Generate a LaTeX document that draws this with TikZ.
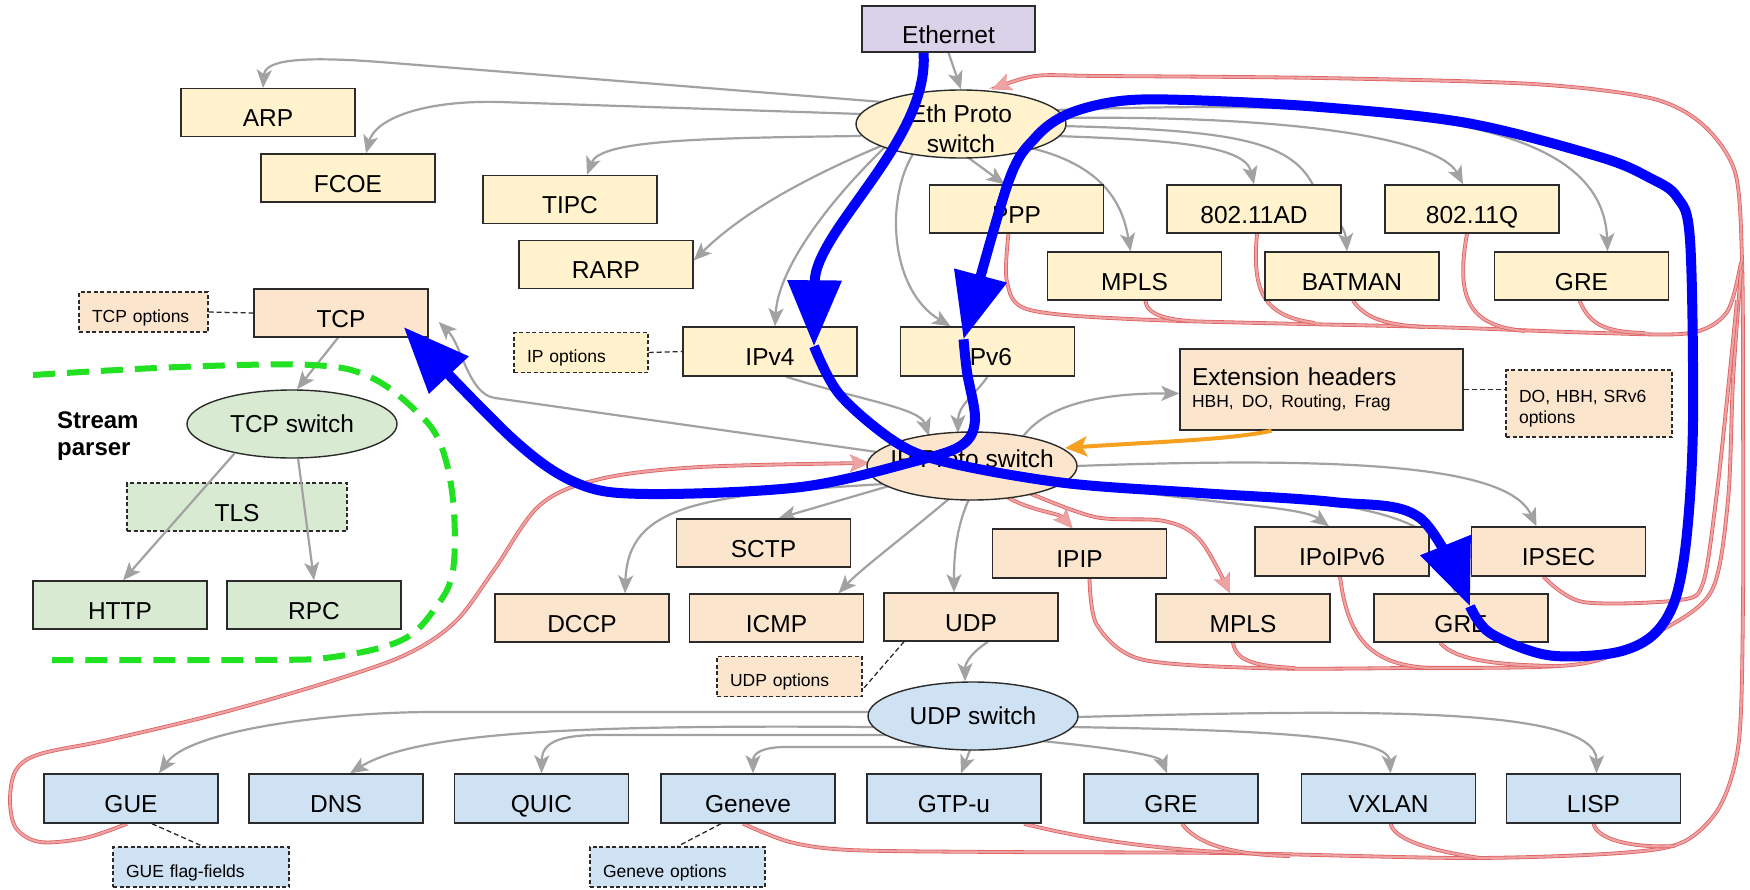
\documentclass[tikz,border=0pt]{standalone}
\usepackage{fontspec}
\setmainfont{Liberation Sans}
\usetikzlibrary{arrows.meta,calc,shapes.geometric}
\pgfdeclarelayer{paper}
\pgfdeclarelayer{back}
\pgfsetlayers{paper,back,main}

\definecolor{l2fill}{HTML}{FFF2CC}
\definecolor{l3fill}{HTML}{FCE5CD}
\definecolor{grfill}{HTML}{D9EAD3}
\definecolor{blfill}{HTML}{CFE2F3}
\definecolor{ethfill}{HTML}{D9D2E9}
\definecolor{edge}{HTML}{2B2B2B}
\definecolor{arrowgray}{HTML}{A2A2A2}
\definecolor{pinkcore}{HTML}{EDA3A3}
\definecolor{pinkedge}{HTML}{E06060}
\definecolor{pathblue}{HTML}{0000FF}
\definecolor{extorange}{HTML}{F5A01E}
\definecolor{streamgreen}{HTML}{22E022}

\begin{document}
\begin{tikzpicture}[x=1pt,y=-1pt,
  box/.style={draw=edge, line width=1.4pt, minimum width=174pt, minimum height=48pt,
    inner sep=0pt, text height=28pt, text depth=0pt, font=\fontsize{24.5}{28}\selectfont},
  l2box/.style={box, fill=l2fill},
  l3box/.style={box, fill=l3fill},
  udpbox/.style={box, fill=blfill, minimum height=49pt},
  strbox/.style={box, fill=grfill},
  ethbox/.style={box, fill=ethfill, minimum width=173pt, minimum height=46pt},
  optbox/.style={draw=edge, line width=1.2pt, dash pattern=on 4pt off 2.5pt,
    inner xsep=13pt, inner ysep=0pt, minimum height=40pt, align=left,
    text height=20pt, text depth=0pt,
    font=\fontsize{17.5}{21}\selectfont\frenchspacing},
  switchnode/.style={ellipse, draw=edge, line width=1.4pt, minimum width=210pt,
    minimum height=68pt, inner xsep=-12pt, inner ysep=-8pt, align=center,
    font=\fontsize{24.5}{30}\selectfont},
  garrow/.style={draw=arrowgray, line width=2.2pt, -{Stealth[length=18pt,width=15pt,inset=4.5pt]}},
  pinkline/.style={draw=pinkcore, line width=2.2pt, preaction={draw=pinkedge, line width=3.8pt}},
  pinkarrow/.style={pinkline, -{Stealth[length=19pt,width=17pt,inset=4pt]}},
  optlink/.style={draw=edge, line width=1.3pt, dash pattern=on 5pt off 3pt},
  bluepath/.style={draw=pathblue, line width=10pt, -{Triangle[length=66pt,width=52pt]}},
  bus/.style={smooth, tension=0.5}
]
\useasboundingbox (0,0) rectangle (1750,889);
\begin{pgfonlayer}{paper}
  \fill[white] (0,0) rectangle (1750,889);
\end{pgfonlayer}

% ---------- link layer ----------
\node[ethbox] (eth) at (948.5,29) {Ethernet};
\node[switchnode, fill=l2fill] (E) at (961,124) {\rule{0pt}{28pt}Eth Proto\\switch};
\node[l2box] (arp) at (268,112.5) {ARP};
\node[l2box] (fcoe) at (348,178) {FCOE};
\node[l2box] (tipc) at (570,199.5) {TIPC};
\node[l2box] (rarp) at (606,264.5) {RARP};
\node[l2box] (ppp) at (1016.5,209) {PPP};
\node[l2box] (ad) at (1254,209) {802.11AD};
\node[l2box] (q) at (1472,209) {802.11Q};
\node[l2box] (mplsA) at (1134.5,276) {MPLS};
\node[l2box] (batman) at (1352,276) {BATMAN};
\node[l2box] (greA) at (1581.5,276) {GRE};
\node[l2box, minimum height=49pt] (ipv4) at (770,351.5) {IPv4};
\node[l2box, minimum height=49pt] (ipv6) at (987.5,351.5) {IPv6};
\node[optbox, fill=l2fill, text width=108pt] (ipopt) at (581,352.5) {IP options};

% ---------- network layer ----------
\node[switchnode, fill=l3fill, text depth=14pt] (P) at (972,466) {IP Proto switch};
\node[l3box] (tcp) at (341,313) {TCP};
\node[optbox, fill=l3fill, text width=103pt] (tcpopt) at (143.5,312) {TCP options};
\node[l3box, minimum width=283pt, minimum height=81pt, text width=259pt, inner xsep=12pt,
  text height=, text depth=, align=left, font=\fontsize{24.5}{28}\selectfont\frenchspacing]
  (ext) at (1321.5,389.5)
  {Extension headers\\[-6pt]{\fontsize{17.5}{21}\selectfont HBH, DO, Routing, Frag}};
\node[optbox, fill=l3fill, text width=140pt, minimum height=67pt, text height=, text depth=]
  (extopt) at (1589,403.5) {\rule{0pt}{21.7pt}DO, HBH, SRv6\\options};
\node[l3box] (sctp) at (763.5,543) {SCTP};
\node[l3box] (dccp) at (582,618) {DCCP};
\node[l3box] (icmp) at (776.5,618) {ICMP};
\node[l3box] (udp) at (971,617) {UDP};
\node[optbox, fill=l3fill, text width=119pt] (udpopt) at (789.5,676.5) {UDP options};
\node[l3box, minimum height=49pt] (ipip) at (1079.5,553.5) {IPIP};
\node[l3box, minimum height=49pt] (ipoipv6) at (1342,551.5) {IPoIPv6};
\node[l3box, minimum height=49pt] (ipsec) at (1558.5,551.5) {IPSEC};
\node[l3box] (mplsB) at (1243,618) {MPLS};
\node[l3box] (greB) at (1461,618) {GRE};

% ---------- stream parser ----------
\node[switchnode, fill=grfill] (tcpsw) at (292,424) {TCP switch};
\node[strbox, line width=1.2pt, dash pattern=on 4pt off 2.5pt, minimum width=220pt] (tls) at (237,507) {TLS};
\node[strbox] (http) at (120,605) {HTTP};
\node[strbox] (rpc) at (314,605) {RPC};
\node[anchor=north west, inner sep=0pt, align=left, font=\fontsize{24}{27}\selectfont\bfseries]
  (streamlbl) at (57,412) {Stream\\parser};

% ---------- UDP encapsulations ----------
\node[switchnode, fill=blfill] (U) at (973,716) {UDP switch};
\node[udpbox] (gue) at (131,798.5) {GUE};
\node[udpbox] (dns) at (336,798.5) {DNS};
\node[udpbox] (quic) at (541.5,798.5) {QUIC};
\node[udpbox] (geneve) at (748,798.5) {Geneve};
\node[udpbox] (gtpu) at (954,798.5) {GTP-u};
\node[udpbox] (greC) at (1171,798.5) {GRE};
\node[udpbox] (vxlan) at (1388.5,798.5) {VXLAN};
\node[udpbox] (lisp) at (1593.5,798.5) {LISP};
\node[optbox, fill=blfill, text width=150pt] (gueopt) at (201,867) {GUE flag-fields};
\node[optbox, fill=blfill, text width=149pt] (genopt) at (677.5,867) {Geneve options};

% ---------- helper points for the bundled return lines ----------
\coordinate (g0) at ($(geneve.south)+(-5,0)$);
\coordinate (eTop) at ($(E.north)+(31,0)$);
\coordinate (p0) at ($(ppp.south)+(-8,0)$);
\coordinate (i0) at ($(ipip.south)+(10,0)$);
\coordinate (s0) at ($(ipsec.south)+(-15,0)$);
\coordinate (u0) at ($(gue.south)+(-4,0)$);
\coordinate (pW) at ($(P.west)+(3,-3)$);
\coordinate (m0) at ($(P)+(55,26)$);
\coordinate (m1) at ($(mplsB.north)+(-13,0)$);

\begin{pgfonlayer}{back}
  % return lines back to the Ethernet protocol switch
  \draw[pinkarrow] plot[bus] coordinates {(g0) (790,842) (850,850) (1000,852) (1224,853)
    (1467,858) (1620,853) (1683,842) (1720,806) (1739,740) (1743,600) (1743,400) (1742,260)
    (1735,172) (1702,124) (1650,98) (1533,84) (1320,78) (1100,76) (1035,76) (eTop)};
  \draw[pinkline] plot[bus] coordinates {(p0) (1007,282) (1030,310) (1153,320) (1433,327)
    (1600,333) (1690,333) (1727,312) (1741,262)};
  \draw[pinkline] ($(mplsA.south)+(11,0)$) .. controls (1146,312) and (1160,319) .. (1190,321);
  \draw[pinkline] ($(ad.south)+(3,0)$) .. controls (1252,290) and (1262,316) .. (1315,323);
  \draw[pinkline] ($(batman.south)+(1,0)$) .. controls (1365,318) and (1385,325) .. (1425,327);
  \draw[pinkline] ($(q.south)+(-5,0)$) .. controls (1455,300) and (1470,326) .. (1525,331);
  \draw[pinkline] ($(greA.south)+(-2,0)$) .. controls (1590,325) and (1605,332) .. (1645,333);
  \draw[pinkline] plot[bus] coordinates {(i0) (1097,625) (1140,659) (1256,668) (1402,668)
    (1580,664) (1662,630) (1712,590) (1728,500) (1733,380) (1741,270)};
  \draw[pinkline] ($(mplsB.south)+(-10,0)$) .. controls (1236,660) and (1252,666) .. (1295,668);
  \draw[pinkline] ($(ipoipv6.south)+(-2,0)$) .. controls (1348,640) and (1372,665) .. (1430,668);
  \draw[pinkline] ($(greB.south)+(-21,0)$) .. controls (1455,660) and (1495,665) .. (1555,666);
  \draw[pinkline] plot[bus] coordinates {(s0) (1583,602) (1680,600) (1703,583) (1716,500)
    (1727,400) (1737,300)};
  \draw[pinkline] ($(gtpu.south)+(70,0)$) .. controls (1100,843) and (1180,851) .. (1245,853);
  \draw[pinkline] ($(greC.south)+(11,0)$) .. controls (1196,843) and (1230,855) .. (1290,856);
  \draw[pinkline] ($(vxlan.south)+(2,0)$) .. controls (1395,842) and (1440,852) .. (1480,858);
  \draw[pinkline] (lisp.south) .. controls (1598,842) and (1640,848) .. (1675,846);
  % GUE back into the IP protocol switch
  \draw[pinkarrow] plot[smooth, tension=0.55] coordinates {(u0) (85,838) (40,842) (16,828)
    (10,800) (16,770) (40,754) (108,740) (217,714) (325,683) (405,655) (455,622) (494,570)
    (540,505) (600,479) (700,467) (pW)};
  \draw[pinkarrow] ($(P)+(30,28)$) .. controls (1030,512) and (1058,512) .. ($(ipip.north)+(-7,0)$);
  \draw[pinkarrow] plot[smooth, tension=0.55] coordinates {(m0) (1095,517) (1164,521) (1200,540) (m1)};

  % Ethernet protocol switch
  \draw[garrow] (eth.south) -- (E.north);
  \draw[garrow] ($(E)+(-78,-22)$) -- (380,62) .. controls (300,56) and (265,60) .. ($(arp.north)+(-5,0)$);
  \draw[garrow] ($(E)+(-100,-10)$) -- (500,102) .. controls (420,100) and (375,120) .. ($(fcoe.north)+(18,0)$);
  \draw[garrow] ($(E)+(-100,12)$) .. controls (700,138) and (600,140) .. ($(tipc.north)+(17,0)$);
  \draw[garrow] ($(E)+(-80,22)$) .. controls (800,180) and (740,215) .. ($(rarp.east)+(0,-4)$);
  \draw[garrow] ($(E)+(-75,22)$) .. controls (825,205) and (778,270) .. ($(ipv4.north)+(5,0)$);
  \draw[garrow] ($(E)+(-48,30)$) .. controls (885,200) and (890,290) .. ($(ipv6.north)+(-37,0)$);
  \draw[garrow] ($(E)+(5,32)$) -- ($(ppp.north)+(-12,0)$);
  \draw[garrow] ($(E)+(70,24)$) .. controls (1100,165) and (1122,200) .. ($(mplsA.north)+(-4,0)$);
  \draw[garrow] ($(E)+(95,12)$) .. controls (1170,140) and (1245,145) .. (ad.north);
  \draw[garrow] ($(E)+(100,2)$) .. controls (1230,130) and (1290,140) .. (1313,185)
    .. controls (1330,215) and (1345,225) .. ($(batman.north)+(-5,0)$);
  \draw[garrow] ($(E)+(100,-6)$) .. controls (1300,115) and (1440,140) .. ($(q.north)+(-9,0)$);
  \draw[garrow] ($(E)+(95,-14)$) .. controls (1400,98) and (1603,120) .. ($(greA.north)+(26,0)$);

  % IP protocol switch
  \draw[garrow] ($(ipv4.south)+(16,0)$) .. controls (860,400) and (920,408) .. ($(P)+(-43,-30)$);
  \draw[garrow] (ipv6.south) .. controls (975,395) and (958,405) .. ($(P)+(-14,-33)$);
  \draw[garrow] ($(P)+(50,-28)$) .. controls (1045,405) and (1100,393) .. ($(ext.west)+(0,4)$);
  \draw[garrow] ($(P)+(-95,-14)$) -- (495,398) .. controls (468,394) and (462,345) .. ($(tcp.east)+(10,9)$);
  \draw[garrow] ($(P)+(-83,20)$) -- ($(sctp.north)+(15,0)$);
  \draw[garrow] ($(P)+(-88,18)$) .. controls (700,495) and (628,505) .. ($(dccp.north)+(43,0)$);
  \draw[garrow] ($(P)+(-22,32)$) .. controls (900,540) and (860,570) .. ($(icmp.north)+(62,0)$);
  \draw[garrow] ($(P)+(-3,33)$) .. controls (955,530) and (954,560) .. ($(udp.north)+(-17,0)$);
  \draw[garrow] ($(P)+(93,14)$) .. controls (1200,505) and (1300,505) .. ($(ipoipv6.north)+(-13,0)$);
  \draw[garrow] ($(P)+(90,16)$) .. controls (1350,500) and (1445,505) .. ($(greB.north)+(-6,0)$);
  \draw[garrow] ($(P)+(104,0)$) .. controls (1380,455) and (1510,470) .. ($(ipsec.north)+(-22,0)$);
  \draw[garrow] ($(tcp.south)+(-3,0)$) -- ($(tcpsw.north)+(5,0)$);

  % UDP switch
  \draw[garrow] ($(udp.south)+(17,0)$) .. controls (968,655) and (965,665) .. ($(U.north)+(-8,0)$);
  \draw[garrow] ($(U)+(-103,-4)$) -- (434,712) .. controls (330,712) and (190,730) .. ($(gue.north)+(28,0)$);
  \draw[garrow] ($(U)+(-98,11)$) .. controls (600,725) and (420,730) .. ($(dns.north)+(14,0)$);
  \draw[garrow] ($(U)+(-85,19)$) -- (600,735) .. controls (560,735) and (542,742) .. (quic.north);
  \draw[garrow] ($(U)+(-40,31)$) -- (786,747) .. controls (765,747) and (753,752) .. ($(geneve.north)+(5,0)$);
  \draw[garrow] ($(U)+(-3,34)$) -- ($(gtpu.north)+(7,0)$);
  \draw[garrow] ($(U)+(69,25)$) .. controls (1110,748) and (1160,755) .. ($(greC.north)+(-4,0)$);
  \draw[garrow] ($(U)+(98,11)$) .. controls (1250,730) and (1388,735) .. ($(vxlan.north)+(2,0)$);
  \draw[garrow] ($(U)+(104,1)$) .. controls (1350,710) and (1597,705) .. ($(lisp.north)+(3,0)$);

  % option boxes
  \draw[optlink] (tcpopt.east) -- (tcp.west);
  \draw[optlink] (ipopt.east) -- (ipv4.west);
  \draw[optlink] (ext.east) -- (ext.east -| extopt.west);
  \draw[optlink] ($(udp.south)+(-67,0)$) -- ($(udpopt.east)+(0,13)$);
  \draw[optlink] ($(gue.south)+(21,0)$) -- ($(gueopt.north)+(2,0)$);
  \draw[optlink] ($(geneve.south)+(-27,0)$) -- (genopt.north);
\end{pgfonlayer}

% stream parser edges, visible across the TLS box
\draw[garrow] (tcpsw.207) -- ($(http.north)+(3,0)$);
\draw[garrow] (tcpsw.-80) -- (rpc.north);

% extension headers feed back into the IP switch
\draw[draw=extorange, line width=4pt, -{Stealth[length=22pt,width=20pt,inset=5pt]}]
  ($(ext.south)+(-50,0)$) .. controls (1230,440) and (1150,442) .. ($(P)+(93,-18)$);

% stream parser boundary
\draw[draw=streamgreen, line width=6pt, dash pattern=on 22pt off 12pt]
  plot[smooth, tension=0.6] coordinates {(33,375) (179,367) (312,365) (370,377) (415,410)
  (440,443) (453,500) (453,570) (436,607) (402,640) (333,657) (258,660) (52,660)};

% highlighted packet walk
\coordinate (b0) at ($(eth.south)+(-25,0)$);
\coordinate (b1) at ($(ipv4.north)+(44,20)$);
\coordinate (b2) at ($(greB.north)+(9,13)$);
\coordinate (b3) at ($(ipv6.north)+(-24,13)$);
\coordinate (b4) at ($(tcp.east)+(-25,14)$);
\draw[bluepath] (b0) .. controls (930,140) and (815,230) .. (b1);
\draw[bluepath] plot[smooth, tension=0.55] coordinates {(b1) (840,395) (897,443) (950,463)
  (1065,483) (1200,493) (1333,502) (1420,518) (b2)};
\draw[bluepath] plot[smooth, tension=0.55] coordinates {(b2) (1490,633) (1547,655) (1613,653)
  (1652,636) (1675,600) (1687,533) (1693,420) (1690,240) (1677,197) (1650,178) (1600,157)
  (1467,123) (1320,107) (1187,100) (1120,101) (1068,114) (1035,138) (1008,183) (b3)};
\draw[bluepath] plot[smooth, tension=0.55] coordinates {(b3) (967,372) (975,420) (962,445)
  (916,461) (801,487) (648,494) (579,484) (514,440) (b4)};
\end{tikzpicture}
\end{document}
